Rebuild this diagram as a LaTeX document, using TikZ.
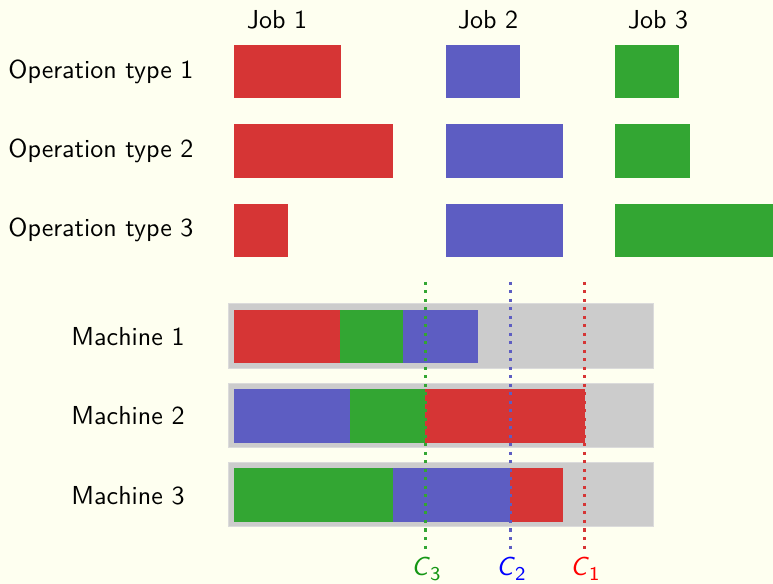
\documentclass[tikz,border=0pt]{standalone}
\renewcommand\familydefault{\sfdefault}
\definecolor{bgc}{RGB}{254,255,240}
\definecolor{jred}{RGB}{214,53,53}
\definecolor{jblue}{RGB}{93,93,194}
\definecolor{jgreen}{RGB}{51,166,51}
\definecolor{mgray}{RGB}{204,204,204}
\definecolor{lgreen}{RGB}{20,150,20}
\newcommand\csub[1]{\raisebox{-0.4ex}{\fontsize{7.8pt}{8pt}\selectfont #1}}
\begin{document}
\begin{tikzpicture}[x=0.4pt,y=-0.4pt,
  every node/.style={font=\fontsize{10.4pt}{12pt}\selectfont, inner sep=0pt},
  mach/.style={fill=mgray, draw=mgray!70!white, line width=0.4pt},
  cline/.style={line width=1.2pt, dash pattern=on 1.2pt off 2.2pt},
  lbl/.style={anchor=west}]
\fill[bgc] (0,0) rectangle (773,584);
\useasboundingbox (0,0) rectangle (773,584);
% job labels
\node (j1) at (277,20) {Job 1};
\node (j2) at (488,20) {Job 2};
\node (j3) at (658,20) {Job 3};
% operation labels
\node[lbl] (o1) at (8,72) {Operation type 1};
\node[lbl] (o2) at (8,151) {Operation type 2};
\node[lbl] (o3) at (8,230) {Operation type 3};
% job operations
\fill[jred] (234,45) rectangle (341,98);
\fill[jred] (234,124) rectangle (393,178);
\fill[jred] (234,204) rectangle (288,257);
\fill[jblue] (446,45) rectangle (520,98);
\fill[jblue] (446,124) rectangle (563,178);
\fill[jblue] (446,204) rectangle (563,257);
\fill[jgreen] (615,45) rectangle (679,98);
\fill[jgreen] (615,124) rectangle (690,178);
\fill[jgreen] (615,204) rectangle (773,257);
% machine labels
\node (m1) at (128,337) {Machine 1};
\node (m2) at (128,416) {Machine 2};
\node (m3) at (128,496) {Machine 3};
% machine backgrounds
\filldraw[mach] (228,304) rectangle (653,369);
\filldraw[mach] (228,384) rectangle (653,448);
\filldraw[mach] (228,463) rectangle (653,527);
% machine 1
\fill[jred] (234,310) rectangle (340,363);
\fill[jgreen] (340,310) rectangle (403,363);
\fill[jblue] (403,310) rectangle (478,363);
% machine 2
\fill[jblue] (234,389) rectangle (350,443);
\fill[jgreen] (350,389) rectangle (425,443);
\fill[jred] (425,389) rectangle (585,443);
% machine 3
\fill[jgreen] (234,468) rectangle (393,522);
\fill[jblue] (393,468) rectangle (510,522);
\fill[jred] (510,468) rectangle (563,522);
% completion times
\node[text=lgreen] (c3) at (426,569) {\textit{C}\csub{3}};
\node[text=blue] (c2) at (511,569) {\textit{C}\csub{2}};
\node[text=red] (c1) at (585,569) {\textit{C}\csub{1}};
\coordinate (t3) at (425,282);
\coordinate (t2) at (510,282);
\coordinate (t1) at (584,282);
\coordinate (b3) at (425,549);
\coordinate (b2) at (510,549);
\coordinate (b1) at (584,549);
\draw[cline, jgreen] (t3) -- (b3);
\draw[cline, jblue] (t2) -- (b2);
\draw[cline, jred] (t1) -- (b1);
\end{tikzpicture}
\end{document}
